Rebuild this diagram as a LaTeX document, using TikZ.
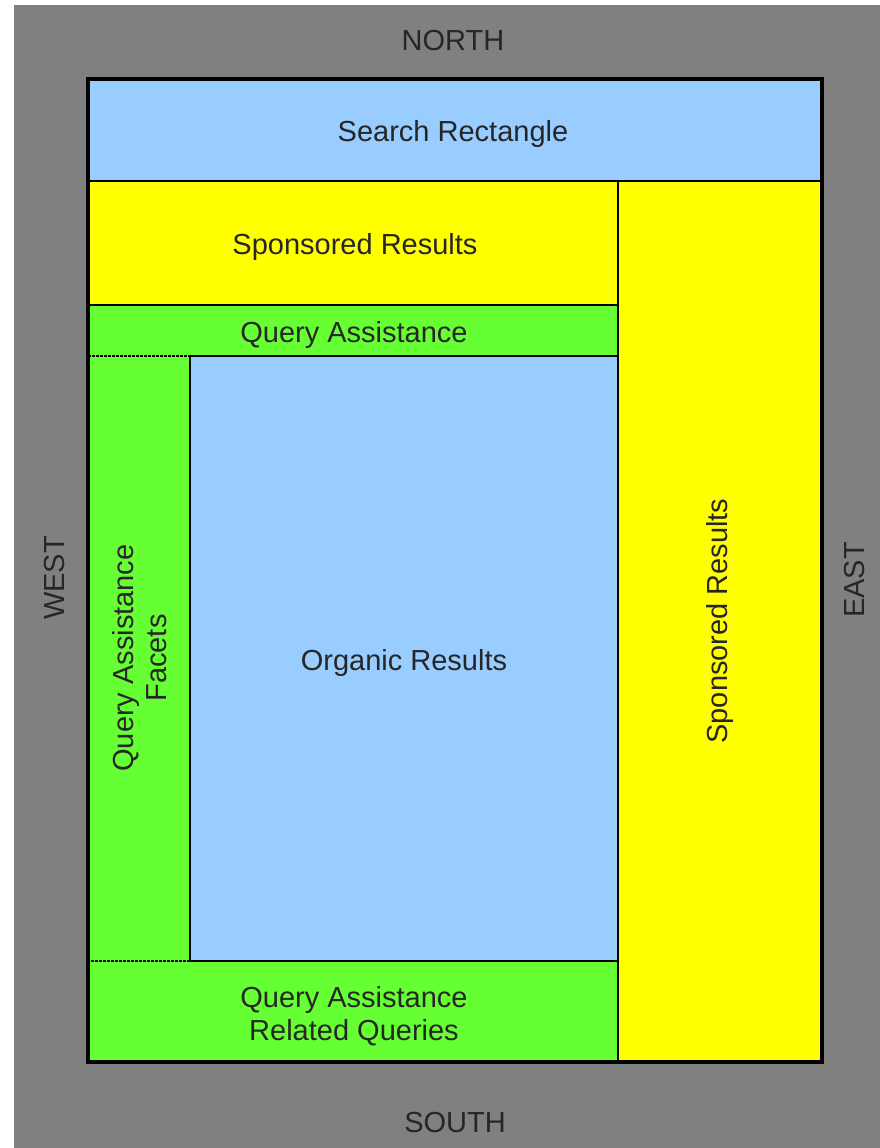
\documentclass[tikz,border=0pt]{standalone}
\usepackage{fontspec}
\setmainfont{Liberation Sans}
\definecolor{canvas}{HTML}{808080}
\definecolor{sky}{HTML}{99CCFF}
\definecolor{ad}{HTML}{FFFF00}
\definecolor{assist}{HTML}{66FF33}
\begin{document}
\begin{tikzpicture}[x=1pt,y=-1pt,
  lbl/.style={font=\fontsize{29}{33}\selectfont, text=black!85, inner sep=0pt, align=center},
  solidbox/.style={draw=black, line width=1.6pt},
  dotbox/.style={draw=black, line width=2pt, dash pattern=on 1.6pt off 2.4pt},
  frame/.style={draw=black, line width=3.2pt}]
  \useasboundingbox (0,0) rectangle (880,1148);
  % page backdrop
  \fill[canvas] (14,5) rectangle (880,1148);

  % layout regions
  \fill[sky]    (88,79)   rectangle (822,181);
  \fill[ad]     (88,181)  rectangle (618,305);
  \fill[assist] (88,305)  rectangle (618,356);
  \fill[assist] (88,356)  rectangle (190,961);
  \fill[sky]    (190,356) rectangle (618,961);
  \fill[assist] (88,961)  rectangle (618,1062);
  \fill[ad]     (618,181) rectangle (822,1062);

  % region borders
  \draw[solidbox] (88,79)   rectangle (822,181);
  \draw[solidbox] (88,181)  rectangle (618,305);
  \draw[solidbox] (618,181) rectangle (822,1062);
  \draw[dotbox]   (88,305)  rectangle (618,356);
  \draw[dotbox]   (88,356)  rectangle (190,961);
  \draw[dotbox]   (88,961)  rectangle (618,1062);
  \draw[solidbox] (190,356) rectangle (618,961);
  \draw[frame]    (88,79)   rectangle (822,1062);

  % region labels
  \node[lbl] (search)  at (453,134)  {Search Rectangle};
  \node[lbl] (adtop)   at (355,247)  {Sponsored Results};
  \node[lbl] (qa)      at (354,335)  {Query Assistance};
  \node[lbl, rotate=90] (facets) at (140,658) {Query Assistance\\Facets};
  \node[lbl] (organic) at (404,663)  {Organic Results};
  \node[lbl] (related) at (354,1016) {Query Assistance\\Related Queries};
  \node[lbl, rotate=90] (adright) at (720,621) {Sponsored Results};

  % compass labels
  \node[lbl] (north) at (453,41)   {NORTH};
  \node[lbl] (south) at (455,1123) {SOUTH};
  \node[lbl, rotate=90] (west) at (55,578)  {WEST};
  \node[lbl, rotate=90] (east) at (855,580) {EAST};
\end{tikzpicture}
\end{document}
